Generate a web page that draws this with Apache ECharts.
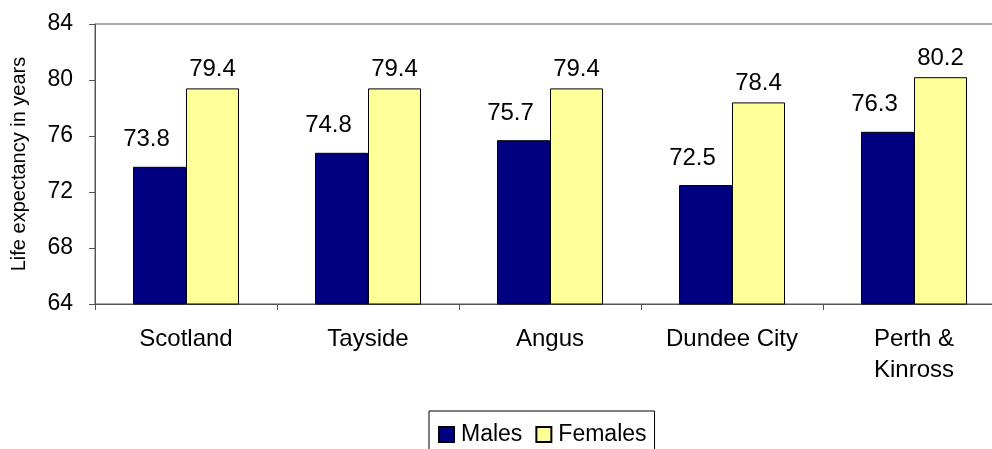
<!DOCTYPE html>
<html>
<head>
<meta charset="utf-8">
<script src="https://cdn.jsdelivr.net/npm/echarts@6/dist/echarts.min.js"></script>
<style>
  html, body { margin: 0; padding: 0; background: #fff; }
  #chart { width: 992px; height: 449px; }
</style>
</head>
<body>
<div id="chart"></div>
<script>
// data
var regions = ['Scotland', 'Tayside', 'Angus', 'Dundee City', 'Perth &\nKinross'];
var males = [73.8, 74.8, 75.7, 72.5, 76.3];
var females = [79.4, 79.4, 79.4, 78.4, 80.2];

var font = 'Arial, "Liberation Sans", sans-serif';

var chart = echarts.init(document.getElementById('chart'));

chart.setOption({
    animation: false,
    grid: {
        left: 95,
        right: -13,
        top: 24,
        bottom: 145,
        outerBoundsMode: 'none',
        containLabel: false,
        show: true,
        borderColor: '#555',
        borderWidth: 1
    },
    legend: {
        left: 429,
        top: 411,
        icon: 'rect',
        itemWidth: 15,
        itemHeight: 15,
        itemGap: 13,
        padding: [12, 8, 12, 9],
        borderColor: '#000',
        borderWidth: 1,
        textStyle: { fontSize: 23, fontFamily: font, color: '#000', padding: [0, 0, 0, 2] },
        data: ['Males', 'Females']
    },
    xAxis: {
        type: 'category',
        data: regions,
        axisLine: { lineStyle: { color: '#555' } },
        axisTick: { show: true, length: 6, lineStyle: { color: '#555' } },
        axisLabel: { color: '#000', fontSize: 24, fontFamily: font, margin: 20, lineHeight: 31 }
    },
    yAxis: {
        type: 'value',
        min: 64,
        max: 84,
        interval: 4,
        name: 'Life expectancy in years',
        nameLocation: 'middle',
        nameGap: 66,
        nameTextStyle: { color: '#000', fontSize: 20, fontFamily: font },
        axisLine: { show: true, lineStyle: { color: '#555' } },
        axisTick: { show: true, length: 6, lineStyle: { color: '#555' } },
        axisLabel: { color: '#000', fontSize: 23, fontFamily: font, margin: 22 },
        splitLine: { show: false }
    },
    series: [
        {
            name: 'Males',
            type: 'bar',
            data: males,
            barWidth: 53,
            barGap: '0%',
            itemStyle: { color: '#000080', borderColor: '#000', borderWidth: 1 },
            label: {
                show: true,
                position: 'top',
                distance: 15,
                offset: [-13, 0],
                color: '#000',
                fontSize: 24,
                fontFamily: font
            }
        },
        {
            name: 'Females',
            type: 'bar',
            data: females,
            barWidth: 53,
            itemStyle: { color: '#ffff99', borderColor: '#000', borderWidth: 1 },
            label: {
                show: true,
                position: 'top',
                distance: 7,
                color: '#000',
                fontSize: 24,
                fontFamily: font
            }
        }
    ]
});
</script>
</body>
</html>
